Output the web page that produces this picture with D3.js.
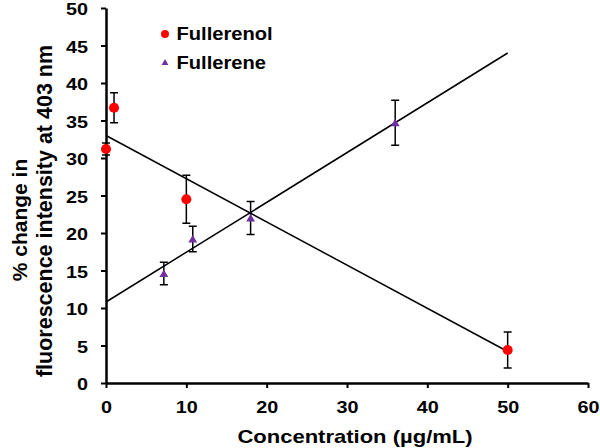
<!DOCTYPE html>
<html><head><meta charset="utf-8">
<script src="https://cdn.jsdelivr.net/npm/d3@7"></script>
<style>body{margin:0;background:#fff}svg{display:block}text{font-family:"Liberation Sans",Arial,sans-serif;font-weight:bold;fill:#000}</style>
</head><body><svg id="c" width="600" height="448"></svg>
<script>
const xTicks = [0,10,20,30,40,50,60];
const yTicks = [0,5,10,15,20,25,30,35,40,45,50];
const fullerenolX = [0,1,10,50];
const fullerenolY = [31.2,36.7,24.5,4.4];
const fullerenolErr = [0.8,2.0,3.2,2.4];
const fullereneX = [7.2,10.8,18,36];
const fullereneY = [14.6,19.2,22.0,34.7];
const fullereneErr = [1.5,1.7,2.2,3.0];
const fitFullerenol = [[0,33.0],[50,4.2]];
const fitFullerene = [[0,10.8],[50,44.0]];
const seriesNames = ["Fullerenol","Fullerene"];
const colors = ["#ff0000","#7030a0"];

const SX = 1.2; // horizontal stretch of the text in the reference
const svg = d3.select("#c");
const x = d3.scaleLinear().domain([0,60]).range([106,588]);
const y = d3.scaleLinear().domain([0,50]).range([383,8]);

// fit lines
const line = d3.line().x(d=>x(d[0])).y(d=>y(d[1]));
[fitFullerenol, fitFullerene].forEach(f=>{
  svg.append("path").attr("d",line(f)).attr("fill","none").attr("stroke","#000").attr("stroke-width",1.5);
});

// axes
const xa = svg.append("g").attr("transform","translate(0,383)")
  .call(d3.axisBottom(x).tickValues(xTicks).tickSize(5).tickPadding(13).tickSizeOuter(0));
const ya = svg.append("g").attr("transform","translate(106,0)")
  .call(d3.axisLeft(y).tickValues(yTicks).tickSize(5).tickSizeOuter(0));
[xa,ya].forEach(a=>{
  a.select(".domain").attr("stroke","#000").attr("stroke-width",2.5);
  a.selectAll(".tick line").attr("stroke","#000").attr("stroke-width",2);
  a.selectAll(".tick text").attr("fill","#000").style("font-size","16.5px")
    .style("font-family","'Liberation Sans',Arial,sans-serif").style("font-weight","bold");
});
xa.selectAll(".tick text").attr("transform",`scale(${SX},1)`);
ya.selectAll(".tick text").attr("x",-18/SX).attr("dy","0.4em").attr("transform",`scale(${SX},1)`);

function errorBars(xs, ys, es){
  const g = svg.append("g").attr("stroke","#000").attr("stroke-width",1.5);
  xs.forEach((xv,i)=>{
    const cx = x(xv), t = y(ys[i]+es[i]), b = y(ys[i]-es[i]);
    g.append("line").attr("x1",cx).attr("x2",cx).attr("y1",t).attr("y2",b);
    g.append("line").attr("x1",cx-4).attr("x2",cx+4).attr("y1",t).attr("y2",t);
    g.append("line").attr("x1",cx-4).attr("x2",cx+4).attr("y1",b).attr("y2",b);
  });
}
errorBars(fullerenolX, fullerenolY, fullerenolErr);
errorBars(fullereneX, fullereneY, fullereneErr);

const circ = d3.symbol().type(d3.symbolCircle).size(80);
const tri = d3.symbol().type(d3.symbolTriangle).size(34);
fullerenolX.forEach((xv,i)=>{
  svg.append("path").attr("d",circ()).attr("fill",colors[0])
    .attr("transform",`translate(${x(xv)},${y(fullerenolY[i])})`);
});
fullereneX.forEach((xv,i)=>{
  svg.append("path").attr("d",tri()).attr("fill",colors[1])
    .attr("transform",`translate(${x(xv)},${y(fullereneY[i])+1})`);
});

// legend
const leg = svg.append("g");
leg.append("path").attr("d",d3.symbol().type(d3.symbolCircle).size(50)()).attr("fill",colors[0]).attr("transform","translate(165,34)");
leg.append("path").attr("d",d3.symbol().type(d3.symbolTriangle).size(20)()).attr("fill",colors[1]).attr("transform","translate(165,63)");
leg.append("text").attr("transform",`translate(176.5,40) scale(1.15,1)`).style("font-size","17.5px").text(seriesNames[0]);
leg.append("text").attr("transform",`translate(176.5,69) scale(1.15,1)`).style("font-size","17.5px").text(seriesNames[1]);

// axis titles
svg.append("text").attr("transform",`translate(355,443) scale(1.19,1)`).attr("text-anchor","middle").style("font-size","18.5px").text("Concentration (µg/mL)");
svg.append("text").attr("transform","translate(27,220) rotate(-90)").attr("text-anchor","middle").style("font-size","21px")
  .text("% change in");
svg.append("text").attr("transform","translate(52,211) rotate(-90)").attr("text-anchor","middle").style("font-size","21.5px")
  .text("fluorescence intensity at 403 nm");
</script></body></html>
